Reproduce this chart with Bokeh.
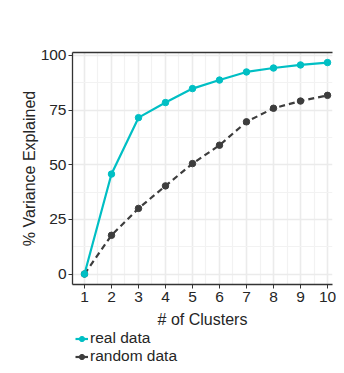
from bokeh.plotting import figure
from bokeh.models import Range1d, FixedTicker, Legend, LegendItem, LinearAxis
from bokeh.layouts import column
from bokeh.embed import file_html
from bokeh.resources import INLINE

clusters = [1, 2, 3, 4, 5, 6, 7, 8, 9, 10]
real_data = [0, 45.7, 71.5, 78.4, 84.8, 88.7, 92.4, 94.2, 95.6, 96.7]
random_data = [0, 17.7, 30.0, 40.3, 50.5, 58.9, 69.6, 75.8, 79.1, 81.7]
y_ticks = [0, 25, 50, 75, 100]
y_minor = [12.5, 37.5, 62.5, 87.5]
x_minor = [1.5, 2.5, 3.5, 4.5, 5.5, 6.5, 7.5, 8.5, 9.5, 10.5]
series_names = ["real data", "random data"]

FONT = "Liberation Sans"
TXT = "#262626"
TEAL = "#00BFC4"
DARK = "#3d3d3d"

p = figure(width=336, height=330, output_backend="svg", toolbar_location=None,
           x_range=Range1d(0.556, 10.185), y_range=Range1d(-4.8, 101.3),
           min_border_left=72, min_border_top=52, min_border_right=4, min_border_bottom=45)
p.outline_line_color = None
p.background_fill_color = "white"

p.xaxis.ticker = FixedTicker(ticks=clusters, minor_ticks=x_minor)
p.yaxis.ticker = FixedTicker(ticks=y_ticks, minor_ticks=y_minor)

for ax in (p.xaxis, p.yaxis):
    ax.axis_line_color = "#333333"
    ax.axis_line_width = 1.3
    ax.major_tick_line_color = "#333333"
    ax.major_tick_in = 0
    ax.major_tick_out = 4
    ax.minor_tick_line_color = None
    ax.major_label_text_font = FONT
    ax.major_label_text_font_size = "15.5px"
    ax.major_label_text_color = TXT
    ax.axis_label_text_font = FONT
    ax.axis_label_text_font_size = "16px"
    ax.axis_label_text_font_style = "normal"
    ax.axis_label_text_color = TXT

p.xaxis.axis_label = "# of Clusters"
p.yaxis.axis_label = "% Variance Explained"
p.xaxis.major_label_standoff = 3
p.yaxis.major_label_standoff = 2
p.xaxis.axis_label_standoff = 6
p.yaxis.axis_label_standoff = 0

top = LinearAxis(ticker=FixedTicker(ticks=[]), major_label_text_font_size="0px",
                 major_tick_line_color=None, minor_tick_line_color=None,
                 axis_line_color="#333333", axis_line_width=1.3)
p.add_layout(top, "above")

for g in (p.xgrid, p.ygrid):
    g.grid_line_color = "#ebebeb"
    g.grid_line_width = 1.6
    g.minor_grid_line_color = "#f2f2f2"
    g.minor_grid_line_width = 1.2

p.line(clusters, random_data, line_color=DARK, line_width=2.2, line_dash="6 4")
p.scatter(clusters, random_data, size=6.5, fill_color=DARK, line_color=DARK)
p.line(clusters, real_data, line_color=TEAL, line_width=2.2)
p.scatter(clusters, real_data, size=6.5, fill_color=TEAL, line_color=TEAL)

# legend strip below the plot (its glyph sources sit outside the visible range)
lg = figure(width=336, height=35, output_backend="svg", toolbar_location=None,
            x_range=Range1d(0, 1), y_range=Range1d(0, 1),
            min_border=0, x_axis_location=None, y_axis_location=None)
lg.outline_line_color = None
lg.xgrid.visible = False
lg.ygrid.visible = False
items = []
for name, col in zip(series_names, [TEAL, DARK]):
    l = lg.line([5, 6], [5, 6], line_color=col, line_width=2.2)
    s = lg.scatter([5], [5], size=6.5, fill_color=col, line_color=col)
    items.append(LegendItem(label=name, renderers=[l, s]))
legend = Legend(items=items, location=(3, 0), orientation="vertical",
                label_text_font=FONT, label_text_font_size="15.5px", label_text_color=TXT,
                glyph_width=13, glyph_height=17, label_standoff=2, spacing=0,
                padding=0, margin=0, border_line_color=None, background_fill_alpha=0,
                label_height=17)
lg.add_layout(legend, "center")

layout = column(p, lg, spacing=0)
open("out.html", "w").write(file_html(layout, INLINE))
